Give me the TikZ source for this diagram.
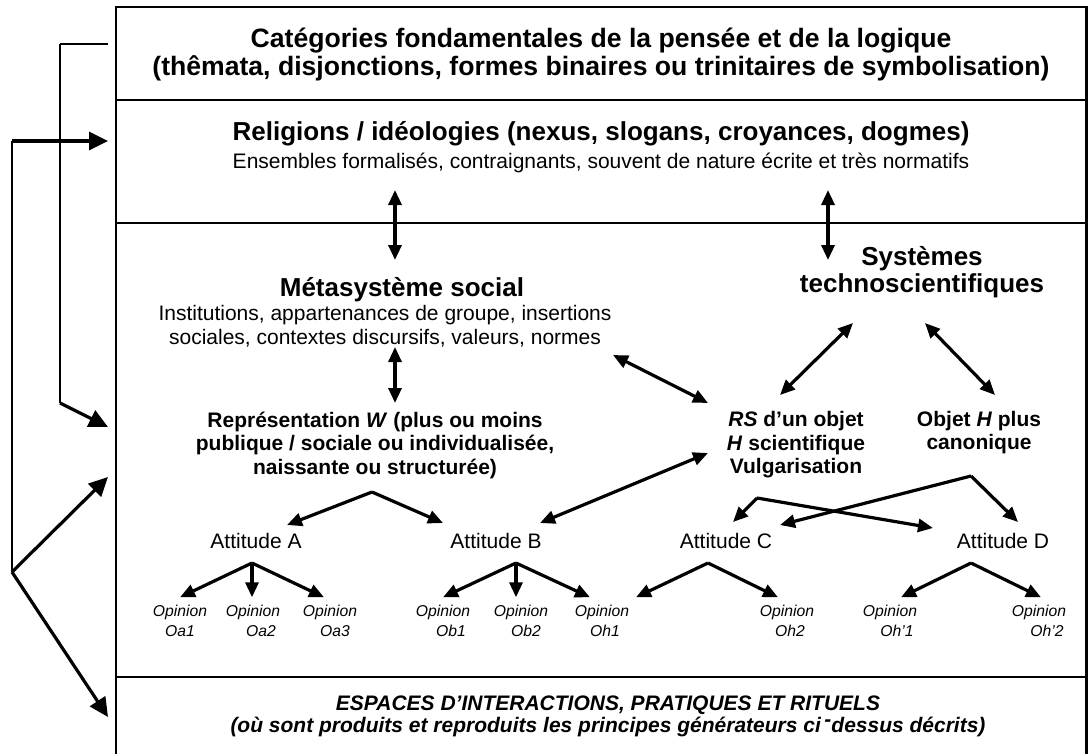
\documentclass[tikz,border=0pt]{standalone}
\usepackage{fontspec}
\setmainfont{Liberation Sans}
\usetikzlibrary{arrows.meta}

\begin{document}
\begin{tikzpicture}[x=1pt,y=-1pt,>={Triangle[length=15pt,width=13pt]}]
\tikzstyle{big}=[font=\fontsize{26}{26.5}\selectfont\bfseries,align=center,inner sep=0pt]
\tikzstyle{txt}=[font=\fontsize{21}{23.5}\selectfont,align=center,inner sep=0pt]
\tikzstyle{txtb}=[font=\fontsize{21}{23.5}\selectfont\bfseries,align=center,inner sep=0pt]
\tikzstyle{att}=[font=\fontsize{21}{23.5}\selectfont,anchor=base,inner sep=0pt]
\tikzstyle{op}=[font=\fontsize{15.7}{19.5}\selectfont\itshape,align=center,inner xsep=0pt,inner ysep=8pt]
\tikzstyle{ln}=[line width=2.3pt]
\tikzstyle{ar}=[->,line width=3.2pt]
\tikzstyle{dar}=[<->,line width=3.2pt]
\tikzstyle{bigar}=[-{Triangle[length=19pt,width=18pt]},line width=3.2pt]
\useasboundingbox (0,0) rectangle (1089,753);
% frame and bands
\draw[ln] (116,7) rectangle (1086.5,770);
\draw[ln] (116,100) -- (1086.5,100);
\draw[ln] (116,223) -- (1086.5,223);
\draw[ln] (116,677) -- (1086.5,677);
% texts
\node[big,font=\fontsize{26.6}{28}\selectfont\bfseries] (cat) at (601,55) {Catégories fondamentales de la pensée et de la logique\\(thêmata, disjonctions, formes binaires ou trinitaires de symbolisation)};
\node[big,anchor=base] (rel) at (601,140) {Religions / idéologies (nexus, slogans, croyances, dogmes)};
\node[txt,anchor=base] (ens) at (601,168) {Ensembles formalisés, contraignants, souvent de nature écrite et très normatifs};
\node[big,anchor=base] (meta) at (402,296) {Métasystème social};
\node[txt] (inst) at (385,326) {Institutions, appartenances de groupe, insertions\\sociales, contextes discursifs, valeurs, normes};
\node[big] (tech) at (922,272) {Systèmes\\technoscientifiques};
\node[txtb] (rep) at (375,445) {Représentation \textit{W} (plus ou moins\\publique / sociale ou individualisée,\\naissante ou structurée)};
\node[txtb] (rs) at (796,445) {\textit{RS} d’un objet\\\textit{H} scientifique\\Vulgarisation};
\node[txtb] (obj) at (979,432.5) {Objet \textit{H} plus\\canonique};
\node[att] (attA) at (256,548) {Attitude A};
\node[att] (attB) at (496,548) {Attitude B};
\node[att] (attC) at (726,548) {Attitude C};
\node[att] (attD) at (1003,548) {Attitude D};
\node[op] (oa1) at (180,621) {Opinion\\Oa1};
\node[op] (oa2) at (253,621) {Opinion\\\hspace*{16pt}Oa2};
\node[op] (oa3) at (330,621) {Opinion\\\hspace*{10pt}Oa3};
\node[op] (ob1) at (443,621) {Opinion\\\hspace*{16pt}Ob1};
\node[op] (ob2) at (521,621) {Opinion\\\hspace*{10pt}Ob2};
\node[op] (oh1) at (602,621) {Opinion\\\hspace*{6pt}Oh1};
\node[op] (oh2) at (787,621) {Opinion\\\hspace*{6pt}Oh2};
\node[op] (ohp1) at (890,621) {Opinion\\\hspace*{14pt}Oh’1};
\node[op] (ohp2) at (1039,621) {Opinion\\\hspace*{16pt}Oh’2};
\node[font=\fontsize{21}{22.5}\selectfont\bfseries\itshape,align=center,inner sep=0pt] (esp) at (608,716.5) {ESPACES D’INTERACTIONS, PRATIQUES ET RITUELS\\(où sont produits et reproduits les principes générateurs ci\,\raisebox{0.32em}{-}dessus décrits)};
% arrow ends
\coordinate (relL) at (395,190); \coordinate (metaT) at (395,260);
\coordinate (relR) at (828,190); \coordinate (techT) at (828,260);
\coordinate (instB) at (395,347); \coordinate (repT) at (395,403);
\coordinate (instR) at (613,355); \coordinate (rsL) at (708,403);
\coordinate (techL) at (853,323); \coordinate (rsT) at (780,395);
\coordinate (techR) at (925,323); \coordinate (objT) at (995,395);
\coordinate (repB) at (372,492); \coordinate (attAr) at (287,525); \coordinate (attBl) at (443,523);
\coordinate (rsM) at (708,453); \coordinate (attBr) at (540,523);
\coordinate (rsB) at (757,498); \coordinate (attCt) at (733,522); \coordinate (attDl) at (933,528);
\coordinate (objB) at (971,476); \coordinate (attDt) at (1018,522); \coordinate (attCr) at (780,525);
\coordinate (aA) at (252,563); \coordinate (aB) at (516,563); \coordinate (aC) at (708,563); \coordinate (aD) at (971,563);
% links between levels
\draw[dar] (relL) -- (metaT);
\draw[dar] (relR) -- (techT);
\draw[dar] (instB) -- (repT);
\draw[dar] (instR) -- (rsL);
\draw[dar] (techL) -- (rsT);
\draw[dar] (techR) -- (objT);
\draw[ar] (repB) -- (attAr); \draw[ar] (repB) -- (attBl);
\draw[dar] (rsM) -- (attBr);
\draw[ar] (rsB) -- (attCt); \draw[ar] (rsB) -- (attDl);
\draw[ar] (objB) -- (attDt); \draw[ar] (objB) -- (attCr);
% attitudes -> opinions
\draw[ar] (aA) -- (oa1.north); \draw[ar] (aA) -- (aA |- oa2.north); \draw[ar] (aA) -- ([xshift=-6]oa3.north);
\draw[ar] (aB) -- (ob1.north); \draw[ar] (aB) -- (aB |- ob2.north); \draw[ar] (aB) -- ([xshift=-12]oh1.north);
\draw[ar] (aC) -- ([xshift=34]oh1.north); \draw[ar] (aC) -- ([xshift=-9]oh2.north);
\draw[ar] (aD) -- ([xshift=11]ohp1.north); \draw[ar] (aD) -- ([xshift=2]ohp2.north);
% feedback lines on the left
\coordinate (catIn) at (108,44); \coordinate (catK) at (60,44); \coordinate (catD) at (60,403); \coordinate (repIn) at (108,427);
\coordinate (loopT) at (12,141); \coordinate (relIn) at (108,141); \coordinate (loopB) at (12,572);
\coordinate (attIn) at (108,477); \coordinate (espIn) at (108,717);
\draw[line width=1.3pt] (catIn) -- (catK);
\draw[line width=2.2pt] (catK) -- (catD);
\draw[bigar] (catD) -- (repIn);
\draw[bigar] (loopT) -- (relIn);
\draw[line width=2.2pt] (loopT) -- (loopB);
\draw[bigar] (loopB) -- (attIn);
\draw[bigar] (loopB) -- (espIn);
\end{tikzpicture}
\end{document}
